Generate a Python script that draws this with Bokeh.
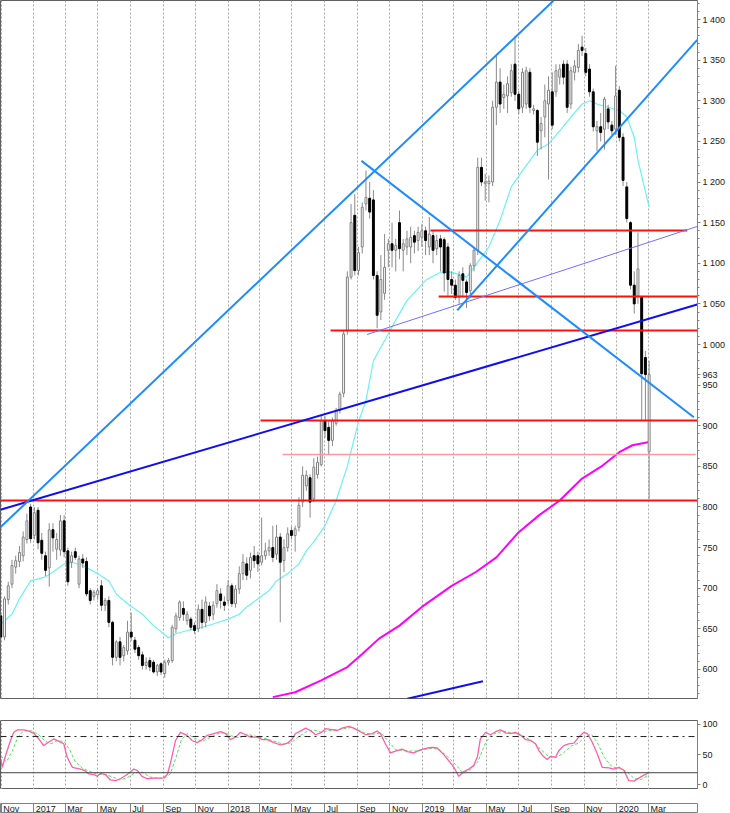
import numpy as np
import pandas as pd
from bokeh.plotting import figure
from bokeh.layouts import column
from bokeh.models import (Range1d, FixedTicker, CustomJSTickFormatter, Grid, Span,
                          ColumnDataSource)
from bokeh.core.properties import value
from bokeh.embed import file_html
from bokeh.resources import INLINE

# ---------------- data (weekly bars) ----------------
FIRST_WEEK = "2016-10-31"

OPEN = [
    666, 640, 686, 705, 726, 733, 740, 760, 800, 765,
    796, 759, 740, 725, 772, 748, 747, 783, 746, 732,
    745, 705, 736, 733, 697, 690, 692, 703, 679, 685,
    658, 615, 634, 617, 623, 646, 636, 627, 618, 605,
    611, 609, 597, 607, 595, 609, 611, 650, 664, 675,
    660, 662, 654, 650, 674, 658, 678, 668, 681, 693,
    683, 685, 703, 681, 699, 718, 730, 722, 740, 740,
    732, 740, 746, 750, 742, 763, 734, 750, 771, 765,
    775, 806, 826, 836, 810, 840, 852, 906, 898, 882,
    903, 919, 940, 1017, 1083, 1159, 1091, 1120, 1173, 1180,
    1178, 1085, 1040, 1063, 1116, 1124, 1116, 1150, 1116, 1120,
    1120, 1134, 1128, 1132, 1140, 1120, 1134, 1118, 1130, 1129,
    1120, 1080, 1073, 1058, 1087, 1077, 1066, 1097, 1116, 1218,
    1198, 1198, 1200, 1292, 1323, 1304, 1306, 1310, 1345, 1308,
    1292, 1296, 1335, 1288, 1288, 1263, 1280, 1296, 1311, 1311,
    1329, 1345, 1345, 1296, 1335, 1341, 1366, 1358, 1339, 1311,
    1263, 1268, 1265, 1290, 1270, 1265, 1313, 1255, 1194, 1150,
    1073, 1060, 1058, 984, 868]
HIGH = [
    668, 690, 708, 735, 740, 752, 770, 792, 804, 800,
    800, 768, 745, 780, 780, 768, 790, 790, 750, 745,
    750, 740, 742, 738, 700, 698, 700, 710, 688, 690,
    660, 636, 640, 630, 660, 670, 640, 630, 622, 615,
    615, 612, 607, 609, 612, 614, 655, 670, 685, 684,
    672, 665, 658, 680, 686, 690, 683, 684, 705, 700,
    690, 710, 706, 704, 727, 742, 738, 744, 752, 745,
    787, 756, 760, 777, 778, 768, 760, 775, 776, 777,
    812, 850, 845, 840, 860, 862, 912, 912, 906, 910,
    922, 942, 1018, 1090, 1173, 1185, 1120, 1175, 1214, 1200,
    1190, 1090, 1110, 1136, 1130, 1150, 1130, 1165, 1130, 1140,
    1145, 1140, 1145, 1148, 1145, 1157, 1140, 1135, 1135, 1132,
    1125, 1090, 1080, 1090, 1095, 1080, 1100, 1120, 1230, 1230,
    1210, 1208, 1300, 1356, 1340, 1320, 1330, 1345, 1380, 1312,
    1340, 1342, 1340, 1295, 1290, 1280, 1320, 1330, 1335, 1345,
    1345, 1350, 1350, 1342, 1350, 1370, 1380, 1365, 1345, 1315,
    1275, 1285, 1305, 1295, 1275, 1343, 1318, 1260, 1200, 1152,
    1090, 1138, 1060, 992, 980]
LOW = [
    633, 636, 680, 700, 718, 726, 733, 755, 756, 760,
    748, 735, 715, 702, 745, 735, 740, 738, 703, 725,
    735, 700, 725, 690, 680, 685, 686, 672, 672, 652,
    605, 610, 605, 610, 618, 635, 620, 612, 600, 600,
    598, 595, 592, 593, 590, 605, 608, 645, 660, 660,
    655, 648, 644, 646, 650, 652, 660, 661, 676, 675,
    672, 680, 677, 676, 693, 710, 710, 712, 725, 720,
    728, 735, 740, 732, 735, 658, 720, 745, 760, 745,
    770, 800, 820, 787, 806, 835, 850, 885, 865, 875,
    900, 915, 935, 1012, 1080, 1085, 1085, 1112, 1165, 1155,
    1080, 1020, 1030, 1055, 1095, 1095, 1090, 1105, 1090, 1110,
    1100, 1112, 1115, 1120, 1110, 1110, 1100, 1110, 1090, 1065,
    1060, 1062, 1055, 1050, 1058, 1045, 1058, 1090, 1110, 1195,
    1177, 1175, 1195, 1270, 1285, 1290, 1285, 1305, 1300, 1283,
    1285, 1290, 1285, 1283, 1232, 1240, 1255, 1203, 1265, 1305,
    1320, 1320, 1285, 1290, 1325, 1335, 1355, 1330, 1305, 1262,
    1238, 1250, 1240, 1265, 1258, 1258, 1250, 1195, 1150, 1068,
    1038, 1050, 906, 906, 810]
CLOSE = [
    640, 687, 703, 728, 734, 744, 763, 783, 761, 793,
    756, 743, 722, 772, 762, 760, 783, 745, 708, 740,
    738, 736, 731, 693, 685, 695, 697, 679, 685, 658,
    615, 634, 615, 627, 646, 640, 625, 617, 605, 609,
    603, 597, 605, 597, 609, 611, 652, 666, 683, 668,
    668, 652, 648, 674, 658, 683, 666, 679, 697, 685,
    679, 703, 681, 699, 718, 732, 716, 738, 734, 730,
    740, 746, 750, 738, 763, 732, 750, 767, 765, 773,
    802, 839, 839, 806, 849, 855, 906, 894, 882, 906,
    919, 939, 1013, 1083, 1150, 1091, 1113, 1169, 1181, 1163,
    1085, 1036, 1080, 1095, 1124, 1116, 1122, 1118, 1124, 1130,
    1132, 1126, 1138, 1140, 1128, 1136, 1116, 1128, 1120, 1088,
    1080, 1073, 1058, 1085, 1079, 1064, 1097, 1116, 1218, 1200,
    1200, 1201, 1292, 1323, 1296, 1308, 1321, 1337, 1308, 1290,
    1335, 1337, 1292, 1290, 1249, 1272, 1300, 1313, 1270, 1337,
    1339, 1329, 1292, 1337, 1343, 1362, 1362, 1335, 1311, 1268,
    1268, 1261, 1302, 1274, 1263, 1306, 1255, 1202, 1155, 1073,
    1050, 1093, 964, 963, 963]
LAST_PRICE = 963

# moving averages (week number, value)
MA_FAST_WEEK = [0, 3, 5, 8, 12, 14, 17, 19, 22, 26, 29, 31, 34, 38, 41, 45, 47, 50, 54, 57,
                61, 64, 66, 69, 72, 74, 77, 80, 82, 84, 87, 90, 93, 96, 98, 100, 103, 106, 109,
                114, 118, 121, 125, 127, 131, 134, 137, 140, 144, 147, 150, 153, 156, 158, 160,
                163, 166, 168, 170, 171, 174]
MA_FAST = [656, 668, 687, 709, 714, 720, 730, 732, 728, 718, 709, 693, 681, 668, 654, 639, 644,
           648, 652, 656, 662, 668, 677, 687, 697, 709, 718, 730, 746, 757, 777, 808, 850, 905,
           931, 980, 1005, 1030, 1054, 1079, 1089, 1089, 1083, 1095, 1120, 1153, 1194, 1214,
           1239, 1247, 1263, 1280, 1296, 1300, 1296, 1292, 1288, 1280, 1255, 1227, 1169]
MA_SLOW_WEEK = [73, 79, 86, 93, 97, 101.5, 107, 113, 121, 127.5, 133, 139, 144.5, 150, 156,
                161.5, 166, 169.5, 174]
MA_SLOW = [566, 572, 586.5, 603, 619, 638, 654, 677, 703, 720, 738, 769, 790, 808, 835, 851,
           867.5, 876, 880]

# stochastic oscillator (week number, value)
STOCH_K_WEEK = [0, 0.4, 1.3, 2.6, 3.5, 4.4, 6.2, 7.5, 8.9, 10.2,
                11.5, 12.9, 14.2, 15.6, 16.9, 17.8, 19.2, 21.4, 22.7, 23.6,
                25, 25.9, 26.8, 28.1, 29.4, 30.8, 32.1, 33.9, 35.7, 36.6,
                37.9, 39.3, 41.1, 42.9, 43.7, 44.7, 45.5, 46.9, 48.2, 50,
                51.4, 52.7, 54.1, 55.4, 57.2, 59, 60.3, 61.6, 63, 64.3,
                65.7, 67, 68.8, 70.2, 71.5, 73.3, 75.1, 76.9, 78.2, 79.1,
                80.4, 81.8, 83.1, 84.5, 85.8, 87.2, 88.5, 90.3, 91.6, 93.4,
                94.7, 96.5, 97.9, 99.7, 101, 101.9, 103.2, 104.6, 105.9, 107.7,
                109.1, 110.8, 112.6, 114.4, 115.8, 117.1, 118.9, 120.2, 121.6, 122.9,
                124.3, 125.6, 126.9, 127.9, 128.7, 130.1, 131.4, 132.8, 134.1, 135.5,
                136.8, 138.1, 139.5, 140.8, 142.2, 143.5, 144.4, 145.3, 146.6, 147.5,
                148.9, 149.8, 151.1, 152.4, 153.8, 155.1, 156.5, 157.4, 158.7, 160.1,
                161.4, 163.2, 164.5, 165.9, 167.2, 168.5, 169.9, 171.2, 172.6, 173.9]
STOCH_K = [43, 29, 49, 73.5, 87, 91, 91, 89, 85, 76,
           65, 71, 76, 72, 68, 46, 29, 26, 23, 18,
           17, 14, 19, 17, 8, 7, 10, 17, 26, 24,
           14, 10, 11, 11, 11.5, 17, 35, 73.5, 87, 82,
           73, 70, 75, 82, 85, 88, 85, 75, 79, 87,
           83, 79, 79, 75, 75, 70, 66, 69, 76, 85,
           89, 94, 90, 83, 86, 93, 92, 90, 94, 97,
           94, 88, 83, 85, 89, 85, 68, 53, 56, 59,
           55, 53, 58, 61, 62, 61, 50, 40, 29, 14,
           22, 26, 32, 46, 76, 87, 83, 88, 91, 86,
           85, 87, 82, 75, 73.5, 68, 57, 49, 42, 47,
           46, 57, 65, 68, 69, 79, 87, 85, 71, 51,
           29, 28, 26, 29, 24, 7, 6, 11, 16, 20]
STOCH_D_WEEK = [0, 1.5, 3, 4.5, 6, 8, 10, 12, 13.5, 15, 17, 18.5, 20, 22, 24, 26, 28, 30, 32, 34,
                36, 38, 40, 42, 44, 45.5, 47, 48.5, 50, 52, 54, 56, 58, 60, 62, 64, 66, 68, 70, 72,
                74, 76, 78, 80, 82, 84, 86, 88, 90, 92, 94, 96, 98, 100, 102, 104, 106, 108, 110, 112,
                114, 116, 118, 120, 122, 124, 126, 128, 130, 131.5, 133, 135, 137, 139, 141, 143,
                145, 147, 149, 151, 153, 155, 157, 158.5, 160, 162, 164, 166, 168, 170, 172, 174]
STOCH_D = [48, 38, 55, 78, 89, 90, 84, 72, 68, 73, 72, 58, 38, 27, 22, 17, 17, 13, 8, 12,
           20, 21, 13, 11, 11, 18, 45, 75, 85, 77, 72, 78, 84, 87, 81, 78, 84, 81, 78, 75,
           71, 67, 70, 80, 88, 91, 87, 90, 91, 93, 95, 91, 85, 84, 86, 72, 58, 57, 56, 56,
           59, 61, 57, 46, 34, 20, 25, 38, 68, 82, 86, 89, 86, 85, 78, 71, 58, 47, 45, 53,
           64, 69, 80, 84, 71, 45, 30, 27, 22, 10, 9, 17]
STOCH_UPPER = 80
STOCH_LOWER = 20

# drawn trend lines (week number / price of both ends)
LIGHT_BLUE_WEEKS = [[-0.1, 148.3], [122.5, 186.9], [96.8, 186.0]]
LIGHT_BLUE_PRICES = [[775, 1423], [1042, 1375], [1226, 910.5]]
DARK_BLUE_WEEKS = [[-0.1, 186.9], [109.1, 129.4]]
DARK_BLUE_PRICES = [[796.6, 1049.3], [564, 585.6]]
THIN_BLUE_WEEKS = [[98.3, 186.9]]
THIN_BLUE_PRICES = [[1012.3, 1145.3]]

# horizontal levels
RED_LEVELS = [808, 906.5, 1017.2, 1059.1, 1140.3]
RED_FROM_WEEK = [-0.1, 69.7, 88.5, 117.5, 115.3]
RED_TO_WEEK = [187, 187, 187, 187, 184.2]
PINK_LEVEL = 864.6
PINK_FROM_WEEK = 75.6
PINK_TO_WEEK = 186.5

MONTH_TICKS = ["2016-11-01", "2017-01-01", "2017-03-01", "2017-05-01", "2017-07-01",
               "2017-09-01", "2017-11-01", "2018-01-01", "2018-03-01", "2018-05-01",
               "2018-07-01", "2018-09-01", "2018-11-01", "2019-01-01", "2019-03-01",
               "2019-05-01", "2019-07-01", "2019-09-01", "2019-11-01", "2020-01-01",
               "2020-03-01"]
MONTH_LABELS = ["Nov", "2017", "Mar", "May", "Jul", "Sep", "Nov", "2018", "Mar", "May",
                "Jul", "Sep", "Nov", "2019", "Mar", "May", "Jul", "Sep", "Nov", "2020", "Mar"]

PRICE_TICKS = list(range(600, 1401, 50))
PRICE_MINOR = list(range(570, 1421, 10))

# ---------------- helpers ----------------
DAY = 86400000.0
T0 = pd.Timestamp(FIRST_WEEK).value / 1e6


def wk(weeks):
    return [T0 + float(w) * 7 * DAY for w in weeks]


MONTH_MS = [pd.Timestamp(d).value / 1e6 for d in MONTH_TICKS]
FONT = "Liberation Sans"

xr = Range1d(T0 - 0.56 * DAY, T0 + 1308.85 * DAY)

# ---------------- main price panel ----------------
p = figure(width=730, height=713, x_range=xr, y_range=Range1d(564.3, 1423.4),
           x_axis_type="datetime", x_axis_location=None, y_axis_location="right",
           toolbar_location=None, tools="", output_backend="svg", title=None,
           min_border_left=0, min_border_right=33, min_border_top=0, min_border_bottom=15,
           background_fill_color="white", border_fill_color="white",
           outline_line_color="#606060")
p.xgrid.visible = False
p.ygrid.visible = False
p.add_layout(Grid(dimension=0, ticker=FixedTicker(ticks=MONTH_MS),
                  grid_line_color="#a8a8a8", grid_line_dash="2 2"))

ax = p.yaxis[0]
ax.ticker = FixedTicker(ticks=PRICE_TICKS + [LAST_PRICE], minor_ticks=PRICE_MINOR)
ax.formatter = CustomJSTickFormatter(code="""
const t = Math.round(tick);
if (t >= 1000) {
  const r = t % 1000;
  const s = r < 10 ? '00' + r : (r < 100 ? '0' + r : '' + r);
  return Math.floor(t / 1000) + ' ' + s;
}
return '' + t;
""")
ax.axis_line_color = "#808080"
ax.major_tick_line_color = "#808080"
ax.minor_tick_line_color = "#808080"
ax.major_tick_out = 3
ax.major_tick_in = 0
ax.minor_tick_out = 2
ax.minor_tick_in = 0
ax.major_label_standoff = 2
ax.major_label_text_font = FONT
ax.major_label_text_font_size = "9px"
ax.major_label_text_color = "#202020"

# moving averages
p.line(wk(MA_FAST_WEEK), MA_FAST, line_color="#6cf2f2", line_width=1.2, line_join="round")
p.line(wk(MA_SLOW_WEEK), MA_SLOW, line_color="#ff00ff", line_width=2, line_join="round")

# candles
up = [c >= o for o, c in zip(OPEN, CLOSE)]
src = ColumnDataSource(dict(
    x=wk(range(len(OPEN))), o=OPEN, h=HIGH, l=LOW, c=CLOSE,
    top=[max(o, c) for o, c in zip(OPEN, CLOSE)],
    bottom=[min(o, c) for o, c in zip(OPEN, CLOSE)],
    fill=["white" if u else "black" for u in up],
    edge=["#808080" if u else "black" for u in up],
))
p.segment(x0="x", y0="l", x1="x", y1="h", line_color="#8a8a8a", line_width=1, source=src)
p.vbar(x="x", width=3.6 * DAY, top="top", bottom="bottom", fill_color="fill",
       line_color="edge", line_width=1, source=src)

# horizontal levels
p.segment(x0=wk([PINK_FROM_WEEK]), y0=[PINK_LEVEL], x1=wk([PINK_TO_WEEK]), y1=[PINK_LEVEL],
          line_color="#ff9a9a", line_width=1.5)
p.segment(x0=wk(RED_FROM_WEEK), y0=RED_LEVELS, x1=wk(RED_TO_WEEK), y1=RED_LEVELS,
          line_color="#ff1010", line_width=2)

# trend lines
p.multi_line([wk(w) for w in THIN_BLUE_WEEKS], THIN_BLUE_PRICES, line_color="#7070ff", line_width=1)
p.multi_line([wk(w) for w in DARK_BLUE_WEEKS], DARK_BLUE_PRICES, line_color="#1010ee", line_width=2)
p.multi_line([wk(w) for w in LIGHT_BLUE_WEEKS], LIGHT_BLUE_PRICES, line_color="#1e8cff", line_width=2)

# ---------------- separator ----------------
sep = figure(width=730, height=3, x_range=Range1d(0, 1), y_range=Range1d(0, 1),
             x_axis_location=None, y_axis_location=None, toolbar_location=None, tools="",
             output_backend="svg", title=None, min_border_left=0, min_border_right=0,
             min_border_top=0, min_border_bottom=0, outline_line_color="#b0b0b0")
sep.grid.visible = False

# ---------------- stochastic panel ----------------
s = figure(width=730, height=73, x_range=xr, y_range=Range1d(-7.8, 106.6),
           x_axis_location=None, y_axis_location="right", toolbar_location=None, tools="",
           output_backend="svg", title=None, min_border_left=0, min_border_right=33,
           min_border_top=4, min_border_bottom=0, outline_line_color="#606060")
s.xgrid.visible = False
s.ygrid.visible = False
s.add_layout(Grid(dimension=0, ticker=FixedTicker(ticks=MONTH_MS),
                  grid_line_color="#a8a8a8", grid_line_dash="2 2"))
sa = s.yaxis[0]
sa.ticker = FixedTicker(ticks=[0, 50, 100], minor_ticks=[])
sa.axis_line_color = "#808080"
sa.major_tick_line_color = "#808080"
sa.major_tick_out = 3
sa.major_tick_in = 0
sa.minor_tick_out = 0
sa.major_label_standoff = 2
sa.major_label_text_font = FONT
sa.major_label_text_font_size = "9px"
sa.major_label_text_color = "#202020"
s.add_layout(Span(location=STOCH_UPPER, dimension="width", line_color="#202020",
                  line_dash="dashdot", line_width=1))
s.add_layout(Span(location=STOCH_LOWER, dimension="width", line_color="#404040", line_width=1))
s.line(wk(STOCH_D_WEEK), STOCH_D, line_color="#4ee64e", line_width=1, line_dash="3 2")
s.line(wk(STOCH_K_WEEK), STOCH_K, line_color="#ff5fa5", line_width=1.3)

# ---------------- month label strip ----------------
b = figure(width=730, height=24, x_range=xr, y_range=Range1d(0, 1),
           x_axis_location=None, y_axis_location=None, toolbar_location=None, tools="",
           output_backend="svg", title=None, min_border_left=0, min_border_right=33,
           min_border_top=14, min_border_bottom=0, outline_line_color="#808080")
b.grid.visible = False
b.add_layout(Grid(dimension=0, ticker=FixedTicker(ticks=MONTH_MS), grid_line_color="#808080"))
b.text(x=MONTH_MS, y=[0.45] * len(MONTH_MS), text=MONTH_LABELS, text_align="left",
       text_baseline="middle", x_offset=2, text_font=value(FONT), text_font_size="9px",
       text_color="#202020")

layout = column(p, sep, s, b, spacing=0)

html = file_html(layout, INLINE, title="chart")
html = html.replace("<head>", "<head><style>html,body{margin:0;padding:0;}</style>", 1)
open("out.html", "w").write(html)
